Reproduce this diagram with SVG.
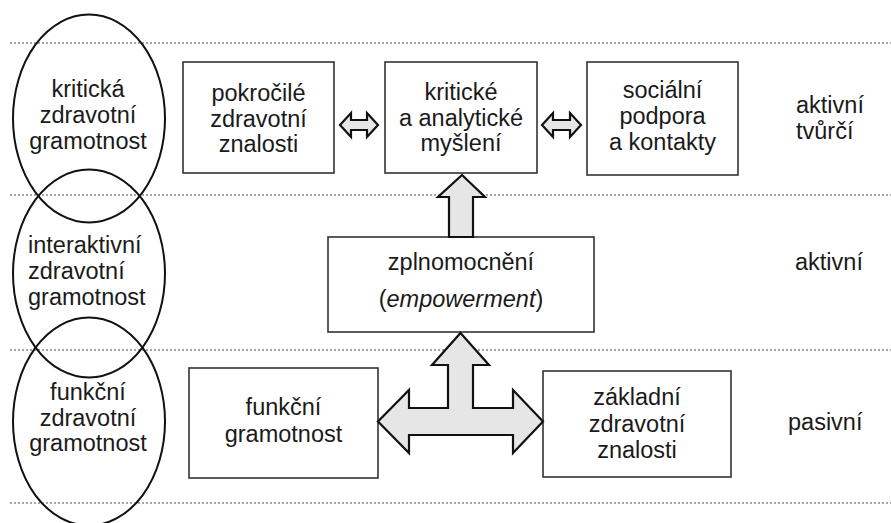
<svg xmlns="http://www.w3.org/2000/svg" width="891" height="523" viewBox="0 0 891 523">
<style>
text{font-family:"Liberation Sans",Arial,sans-serif;font-size:23.5px;fill:#1a1a1a}
.c{text-anchor:middle}
.box{fill:#fff;stroke:#333;stroke-width:1.6}
.ell{fill:none;stroke:#111;stroke-width:2}
.dot{stroke:#888;stroke-width:1.5;stroke-dasharray:2 2;fill:none}
.arr{fill:#e6e6e6;stroke:#111;stroke-width:2.2;stroke-linejoin:miter}
</style>
<rect width="891" height="523" fill="#fff"/>
<g id="dividers">
<line class="dot" x1="10" y1="43" x2="891" y2="43"/>
<line class="dot" x1="10" y1="195" x2="891" y2="195"/>
<line class="dot" x1="10" y1="350" x2="891" y2="350"/>
<line class="dot" x1="10" y1="503" x2="891" y2="503"/>
</g>
<g id="ellipse-critical">
<ellipse class="ell" cx="89" cy="118.5" rx="76" ry="104"/>
<text class="c" x="88" y="97">kritická</text>
<text class="c" x="88" y="123">zdravotní</text>
<text class="c" x="88" y="149">gramotnost</text>
</g>
<g id="ellipse-interactive">
<ellipse class="ell" cx="89" cy="273.5" rx="76" ry="104"/>
<text x="28" y="253">interaktivní</text>
<text x="28" y="279">zdravotní</text>
<text x="28" y="305">gramotnost</text>
</g>
<g id="ellipse-functional">
<ellipse class="ell" cx="89" cy="421.5" rx="76" ry="104"/>
<text class="c" x="88" y="400">funkční</text>
<text class="c" x="88" y="426">zdravotní</text>
<text class="c" x="88" y="451">gramotnost</text>
</g>
<g id="box-advanced">
<rect class="box" x="183" y="62" width="151" height="111"/>
<text class="c" x="258.5" y="101">pokročilé</text>
<text class="c" x="258.5" y="127">zdravotní</text>
<text class="c" x="258.5" y="152">znalosti</text>
</g>
<g id="box-critical">
<rect class="box" x="385" y="62" width="152" height="111"/>
<text class="c" x="461" y="100">kritické</text>
<text class="c" x="461" y="126">a analytické</text>
<text class="c" x="461" y="151">myšlení</text>
</g>
<g id="box-social">
<rect class="box" x="587" y="62" width="151" height="113"/>
<text class="c" x="662.5" y="98">sociální</text>
<text class="c" x="662.5" y="124">podpora</text>
<text class="c" x="662.5" y="150">a kontakty</text>
</g>
<g id="box-empowerment">
<rect class="box" x="328" y="237" width="266" height="95"/>
<text class="c" x="461" y="270">zplnomocnění</text>
<text class="c" x="461" y="307">(<tspan font-style="italic">empowerment</tspan>)</text>
</g>
<g id="box-functional">
<rect class="box" x="189" y="368" width="189" height="110"/>
<text class="c" x="283.5" y="415">funkční</text>
<text class="c" x="283.5" y="442">gramotnost</text>
</g>
<g id="box-basic">
<rect class="box" x="543" y="371" width="188" height="106"/>
<text class="c" x="637" y="405">základní</text>
<text class="c" x="637" y="432">zdravotní</text>
<text class="c" x="637" y="458">znalosti</text>
</g>
<g id="labels">
<text x="796" y="113">aktivní</text>
<text x="796" y="139">tvůrčí</text>
<text x="795" y="270">aktivní</text>
<text x="788" y="430">pasivní</text>
</g>
<g id="connectors">
<path class="arr" d="M340,125 L351,113 L351,120 L367,120 L367,113 L378,125 L367,137 L367,130 L351,130 L351,137 Z"/>
<path class="arr" d="M542,125 L553,113 L553,120 L570,120 L570,113 L581,125 L570,137 L570,130 L553,130 L553,137 Z"/>
<path class="arr" d="M462,175 L485,197 L473,197 L473,237 L449,237 L449,197 L438,197 Z"/>
<path class="arr" d="M460.5,333 L489,365 L473,365 L473,408 L513,408 L513,390 L543,421.5 L513,453 L513,435 L409,435 L409,453 L378,421.5 L409,390 L409,408 L448,408 L448,365 L432,365 Z"/>
</g>
</svg>
